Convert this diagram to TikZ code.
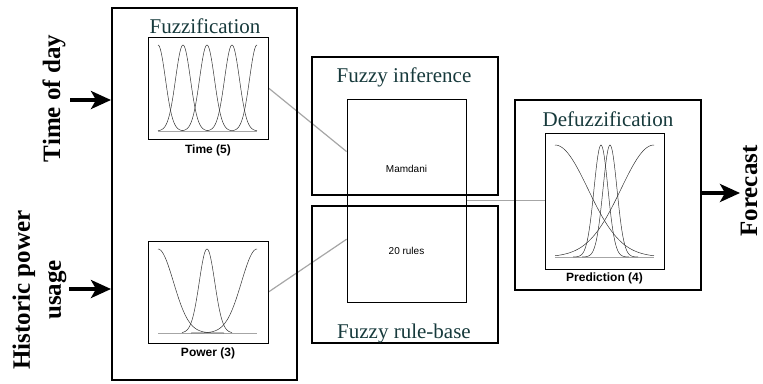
\documentclass[tikz,border=0pt]{standalone}
\usepackage{fontspec}
\setmainfont{Liberation Serif}
\setsansfont{Liberation Sans}
\usepackage{xcolor}
\usepackage{tikz}
\usetikzlibrary{arrows.meta,calc,backgrounds}

\definecolor{titleteal}{HTML}{173A3C}
\definecolor{linkgray}{HTML}{A6A6A6}

\tikzset{
	bigbox/.style={draw, line width=2pt, inner sep=0pt},
	plotbox/.style={draw, line width=1pt, inner sep=0pt},
	corebox/.style={draw, line width=0.8pt, inner sep=0pt},
	boxtitle/.style={text=titleteal, font=\fontsize{21}{21}\selectfont, inner sep=0pt, anchor=base},
	sidelabel/.style={font=\bfseries\fontsize{25}{31}\selectfont, rotate=90, inner sep=0pt, align=center},
	plotlabel/.style={font=\sffamily\bfseries\fontsize{12}{12}\selectfont, inner sep=0pt, anchor=base},
	corelabel/.style={font=\sffamily\fontsize{10}{10}\selectfont, inner sep=0pt, anchor=base},
	link/.style={draw=linkgray, line width=1.2pt},
	feed/.style={-{Stealth[length=20pt,width=18pt,inset=5pt]}, line width=3.5pt},
	bell/.style={line width=0.5pt, black!80, samples=60},
	floor/.style={line width=0.8pt, linkgray}
}

\begin{document}
\begin{tikzpicture}[x=1pt,y=-1pt]
	\useasboundingbox (0,0) rectangle (763,383);

	% blocks
	\node[bigbox, minimum width=185pt, minimum height=372pt] (fuzz) at (204.5,194) {};
	\node[bigbox, minimum width=186pt, minimum height=138pt] (infer) at (405,126) {};
	\node[bigbox, minimum width=186pt, minimum height=137pt] (rules) at (405,274.5) {};
	\node[bigbox, minimum width=186pt, minimum height=190pt] (defuzz) at (608,195) {};

	\node[plotbox, minimum width=120pt, minimum height=102pt] (time) at (208,88) {};
	\node[plotbox, minimum width=120pt, minimum height=102pt] (power) at (208,292) {};
	\node[plotbox, minimum width=119pt, minimum height=136pt] (pred) at (604.5,201) {};
	\node[corebox, minimum width=119pt, minimum height=203pt] (core) at (406.5,200.5) {};

	% titles
	\node[boxtitle] (fuzzt) at (205,33) {Fuzzification};
	\node[boxtitle] (infert) at (404,82) {Fuzzy inference};
	\node[boxtitle] (rulest) at (404,338) {Fuzzy rule-base};
	\node[boxtitle] (defuzzt) at (608,126) {Defuzzification};

	\node[plotlabel] (timecap) at (208,153) {Time (5)};
	\node[plotlabel] (powercap) at (208,356) {Power (3)};
	\node[plotlabel] (predcap) at (604.5,281) {Prediction (4)};
	\node[corelabel] (mamdani) at (406.5,172) {Mamdani};
	\node[corelabel] (count) at (406.5,254) {20 rules};

	% inputs and output
	\node[sidelabel, anchor=base] (tod) at (60,98.5) {Time of day};
	\node[sidelabel] (hist) at (39.5,290) {Historic power\\usage};
	\node[sidelabel, anchor=base] (fc) at (757,191) {Forecast};

	\coordinate (todin) at (70,100);
	\coordinate (histin) at (69,289);
	\coordinate (fcout) at (740,193);
	\draw[feed] (todin) -- (todin -| fuzz.west);
	\draw[feed] (histin) -- (histin -| fuzz.west);
	\draw[feed] (defuzz.east |- fcout) -- (fcout);

	\begin{scope}[on background layer]
		\draw[link] (time.east) -- ($(core.north west)!0.26!(core.south west)$);
		\draw[link] (power.east) -- ($(core.north west)!0.69!(core.south west)$);
		\draw[link] (core.east) -- (core.east -| pred.west);
	\end{scope}

	% membership functions
	\draw[floor] (158,131) -- (257,131);
	\foreach \c/\a/\b in {158/158/183, 183/158/208, 207/182/232, 232/207/257, 257/232/257}{
		\draw[bell, domain=\a:\b] plot (\x, {131-86*exp(-(\x-\c)*(\x-\c)/110)});
	}

	\draw[floor] (158,333) -- (257,333);
	\draw[bell, domain=158:224] plot (\x, {333-84*exp(-(\x-158)*(\x-158)/480)});
	\draw[bell, domain=191:257] plot (\x, {333-84*exp(-(\x-257)*(\x-257)/480)});
	\draw[bell, domain=182:232] plot (\x, {333-84*exp(-(\x-207)*(\x-207)/120)});

	\draw[floor] (555,257) -- (654,257);
	\draw[bell, domain=555:654] plot (\x, {257-112*exp(-(\x-555)*(\x-555)/2180)});
	\draw[bell, domain=555:654] plot (\x, {257-112*exp(-(\x-654)*(\x-654)/2180)});
	\foreach \c in {601,610}{
		\draw[bell, domain=\c-28:\c+28] plot (\x, {257-112*exp(-(\x-\c)*(\x-\c)/98)});
	}
\end{tikzpicture}
\end{document}
